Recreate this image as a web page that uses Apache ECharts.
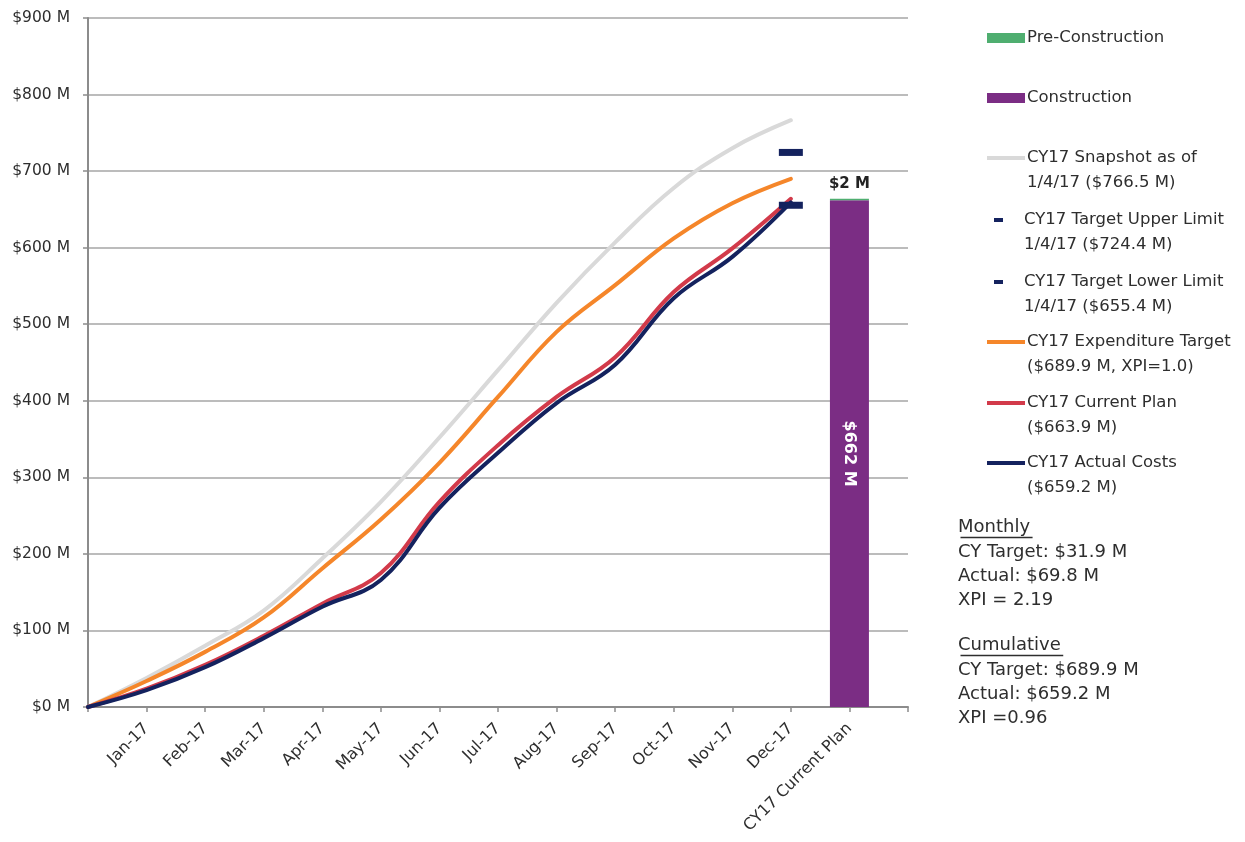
<!DOCTYPE html>
<html>
<head>
<meta charset="utf-8">
<title>CY17 Expenditures</title>
<script src="https://cdn.jsdelivr.net/npm/echarts@6/dist/echarts.min.js"></script>
<style>
  html, body { margin: 0; padding: 0; background: #ffffff; }
  #chart { width: 1245px; height: 842px; }
</style>
</head>
<body>
<div id="chart"></div>
<script>
// Axis positions: 0 = start of year, 1..12 = month ends, 13 = plan bar
const periodLabels = ['', 'Jan-17', 'Feb-17', 'Mar-17', 'Apr-17', 'May-17', 'Jun-17',
  'Jul-17', 'Aug-17', 'Sep-17', 'Oct-17', 'Nov-17', 'Dec-17', 'CY17 Current Plan', ''];

// Cumulative spend, $M, at start of year and each month end
const snapshotValues    = [0, 38, 80, 126, 194, 268, 352, 440, 528, 607, 678, 730, 766.5];
const targetValues      = [0, 34, 72, 117, 181, 245, 319, 405, 490, 551, 612, 658, 689.9];
const currentPlanValues = [0, 24, 55, 93, 135, 175, 268, 342, 405, 457, 542, 599, 663.9];
const actualValues      = [0, 22, 52, 90, 131, 166, 260, 332, 397, 447, 534, 588, 659.2];

// Year-end target limits
const upperLimitValue = 724.4;
const lowerLimitValue = 655.4;
const limitPosition = 12;

// CY17 current plan bar breakdown, $M
const planPosition = 13;
const constructionValue = 662;
const preConstructionValue = 2;

// Summary notes
const monthlyHeading = 'Monthly';
const monthlyLines = ['CY Target: $31.9 M', 'Actual: $69.8 M', 'XPI = 2.19'];
const cumulativeHeading = 'Cumulative';
const cumulativeLines = ['CY Target: $689.9 M', 'Actual: $659.2 M', 'XPI =0.96'];

const NAME_PRE = 'Pre-Construction';
const NAME_CON = 'Construction';
const NAME_SNAP = 'CY17 Snapshot as of\n1/4/17 ($766.5 M)';
const NAME_UPPER = 'CY17 Target Upper Limit\n1/4/17 ($724.4 M)';
const NAME_LOWER = 'CY17 Target Lower Limit\n1/4/17 ($655.4 M)';
const NAME_TARGET = 'CY17 Expenditure Target\n($689.9 M, XPI=1.0)';
const NAME_PLAN = 'CY17 Current Plan\n($663.9 M)';
const NAME_ACTUAL = 'CY17 Actual Costs\n($659.2 M)';

const COLORS = {
  pre: '#4fae70',
  con: '#7b2d84',
  snap: '#d9d9d9',
  limit: '#14225e',
  target: '#f5862a',
  plan: '#d23a4a',
  actual: '#14225e'
};

const FONT = '"DejaVu Sans", "Liberation Sans", sans-serif';
const TEXT_COLOR = '#2e2e2e';

function lineSeries(name, values, color, z) {
  return {
    name: name,
    type: 'line',
    data: values,
    smooth: 0.4,
    symbol: 'none',
    z: z,
    lineStyle: { color: color, width: 4, cap: 'round' },
    itemStyle: { color: color }
  };
}

// Bar data sits only at the plan position
const atPlan = v => periodLabels.map((_, i) => (i === planPosition ? v : '-'));

// One legend block per entry so each icon lines up with its first text line
const LINE_H = 25;
const legendEntries = [
  { name: NAME_PRE,    cy: 38,  w: 38, h: 10, left: 987, pad: 0 },
  { name: NAME_CON,    cy: 98,  w: 38, h: 10, left: 987, pad: 0 },
  { name: NAME_SNAP,   cy: 158, w: 38, h: 4,  left: 987, pad: 0 },
  { name: NAME_UPPER,  cy: 220, w: 9,  h: 4,  left: 994, pad: 19 },
  { name: NAME_LOWER,  cy: 282, w: 9,  h: 4,  left: 994, pad: 19 },
  { name: NAME_TARGET, cy: 342, w: 38, h: 4,  left: 987, pad: 0 },
  { name: NAME_PLAN,   cy: 403, w: 38, h: 4,  left: 987, pad: 0 },
  { name: NAME_ACTUAL, cy: 463, w: 38, h: 4,  left: 987, pad: 0 }
];

const legends = legendEntries.map(e => {
  const multi = e.name.indexOf('\n') >= 0;
  const half = multi ? LINE_H * 1.5 : LINE_H / 2;
  return {
    show: true,
    orient: 'vertical',
    left: e.left,
    top: e.cy - half,
    padding: 0,
    itemWidth: e.w,
    itemHeight: e.h,
    itemGap: 0,
    selectedMode: false,
    icon: 'rect',
    data: [{ name: e.name, icon: 'rect' }],
    formatter: n => (multi ? ' \n' : '') + n,
    textStyle: {
      fontFamily: FONT,
      fontSize: 16.5,
      color: TEXT_COLOR,
      lineHeight: LINE_H,
      padding: [0, 0, 0, e.pad - 3]
    }
  };
});

// Summary text blocks with underlined headings
const measureCtx = document.createElement('canvas').getContext('2d');
const SUMMARY_FONT = '18px "DejaVu Sans", sans-serif';
measureCtx.font = SUMMARY_FONT;

function summaryBlock(heading, lines, centerY) {
  const x = 958;
  const w = measureCtx.measureText(heading).width;
  return [
    {
      type: 'text', left: x, top: centerY - 12,
      style: { text: heading, font: SUMMARY_FONT, fill: TEXT_COLOR, lineHeight: 24 }
    },
    {
      type: 'line', left: x, top: centerY + 8,
      shape: { x1: 0, y1: 0, x2: w, y2: 0 },
      style: { stroke: TEXT_COLOR, lineWidth: 1.3 }
    },
    {
      type: 'text', left: x, top: centerY + 13,
      style: { text: lines.join('\n'), font: SUMMARY_FONT, fill: TEXT_COLOR, lineHeight: 24.3 }
    }
  ];
}

const chart = echarts.init(document.getElementById('chart'), null, { renderer: 'canvas' });

chart.setOption({
  backgroundColor: '#ffffff',
  animation: false,
  textStyle: { fontFamily: FONT },
  grid: { left: 88, right: 337, top: 18, bottom: 135, outerBoundsMode: 'none' },
  legend: legends,
  xAxis: {
    type: 'category',
    data: periodLabels,
    boundaryGap: false,
    axisLine: { show: true, lineStyle: { color: '#8c8c8c', width: 2 } },
    axisTick: { show: true, interval: 0, length: 5, lineStyle: { color: '#8c8c8c', width: 1.5 } },
    splitLine: { show: false },
    axisLabel: {
      interval: 0,
      rotate: 45,
      margin: 19,
      fontSize: 16,
      color: TEXT_COLOR,
      fontFamily: FONT
    }
  },
  yAxis: {
    type: 'value',
    min: 0,
    max: 900,
    interval: 100,
    axisLine: { show: true, lineStyle: { color: '#8c8c8c', width: 2 } },
    axisTick: { show: true, length: 5, lineStyle: { color: '#8c8c8c', width: 1.5 } },
    splitLine: { show: true, lineStyle: { color: '#a6a6a6', width: 1.5 } },
    axisLabel: {
      margin: 18,
      fontSize: 15.5,
      color: TEXT_COLOR,
      fontFamily: FONT,
      formatter: v => '$' + v + ' M'
    }
  },
  series: [
    {
      name: NAME_CON,
      type: 'bar',
      stack: 'plan',
      barWidth: 39,
      data: atPlan(constructionValue),
      itemStyle: { color: COLORS.con },
      label: {
        show: true,
        position: 'inside',
        rotate: -90,
        color: '#ffffff',
        fontWeight: 'bold',
        fontSize: 16,
        fontFamily: FONT,
        formatter: p => '$' + p.value + ' M'
      }
    },
    {
      name: NAME_PRE,
      type: 'bar',
      stack: 'plan',
      barWidth: 39,
      data: atPlan(preConstructionValue),
      itemStyle: { color: COLORS.pre },
      label: {
        show: true,
        position: 'top',
        distance: 7,
        color: '#222222',
        fontWeight: 'bold',
        fontSize: 15,
        fontFamily: FONT,
        formatter: p => '$' + p.value + ' M'
      }
    },
    lineSeries(NAME_SNAP, snapshotValues, COLORS.snap, 3),
    lineSeries(NAME_TARGET, targetValues, COLORS.target, 4),
    lineSeries(NAME_PLAN, currentPlanValues, COLORS.plan, 5),
    lineSeries(NAME_ACTUAL, actualValues, COLORS.actual, 6),
    {
      name: NAME_UPPER,
      type: 'scatter',
      symbol: 'rect',
      symbolSize: [24, 7],
      z: 7,
      data: [[limitPosition, upperLimitValue]],
      itemStyle: { color: COLORS.limit, opacity: 1 }
    },
    {
      name: NAME_LOWER,
      type: 'scatter',
      symbol: 'rect',
      symbolSize: [24, 7],
      z: 7,
      data: [[limitPosition, lowerLimitValue]],
      itemStyle: { color: COLORS.limit, opacity: 1 }
    }
  ],
  graphic: [].concat(
    summaryBlock(monthlyHeading, monthlyLines, 527),
    summaryBlock(cumulativeHeading, cumulativeLines, 645)
  )
});
</script>
</body>
</html>
